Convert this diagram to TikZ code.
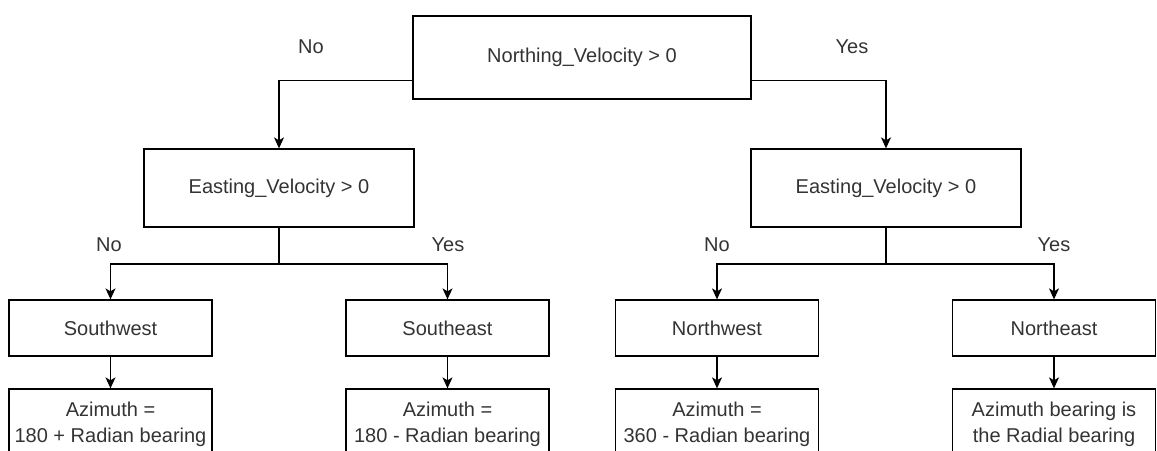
\documentclass[tikz,border=0pt]{standalone}
\usepackage{fontspec}
\setmainfont{Liberation Sans}
\usetikzlibrary{arrows.meta}
\begin{document}
\begin{tikzpicture}[x=1pt,y=-1pt,
  every node/.style={font=\fontsize{20}{26}\selectfont, text=black!80},
  box/.style={draw=black, line width=1.3pt, rectangle, inner sep=0pt, align=center},
  lbl/.style={inner sep=0pt},
  arr/.style={draw=black, line width=1.3pt, -{Stealth[length=11pt,width=10pt,inset=3pt]}},
  ln/.style={draw=black, line width=1.3pt}]
\useasboundingbox (0,0) rectangle (1157,450);
% nodes
\node[box, minimum width=338pt, minimum height=83pt] (top) at (582,57.5) {Northing\_Velocity > 0};
\node[box, minimum width=270pt, minimum height=78pt] (eL) at (279,188) {Easting\_Velocity > 0};
\node[box, minimum width=270pt, minimum height=78pt] (eR) at (886,188) {Easting\_Velocity > 0};
\node[box, minimum width=203pt, minimum height=56pt] (sw) at (110.5,328) {Southwest};
\node[box, minimum width=203pt, minimum height=56pt] (se) at (447.5,328) {Southeast};
\node[box, minimum width=203pt, minimum height=56pt] (nw) at (717,328) {Northwest};
\node[box, minimum width=203pt, minimum height=56pt] (ne) at (1054,328) {Northeast};
\node[box, minimum width=203pt, minimum height=70pt] (asw) at (110.5,424) {Azimuth =\\180 + Radian bearing};
\node[box, minimum width=203pt, minimum height=70pt] (ase) at (447.5,424) {Azimuth =\\180 - Radian bearing};
\node[box, minimum width=203pt, minimum height=70pt] (anw) at (717,424) {Azimuth =\\360 - Radian bearing};
\node[box, minimum width=203pt, minimum height=70pt] (ane) at (1054,424) {Azimuth bearing is\\the Radial bearing};
% labels
\node[lbl] (lNo0) at (311,47) {No};
\node[lbl] (lYes0) at (852,47) {Yes};
\node[lbl] (lNo1) at (109,245) {No};
\node[lbl] (lYes1) at (448,245) {Yes};
\node[lbl] (lNo2) at (717,245) {No};
\node[lbl] (lYes2) at (1054,245) {Yes};
% connectors
\draw[arr] ([yshift=-23pt]top.west) -| (eL.north);
\draw[arr] ([yshift=-23pt]top.east) -| (eR.north);
\coordinate (jL) at (279,264);
\coordinate (jR) at (886,264);
\draw[ln] (eL.south) -- (jL);
\draw[arr] (jL) -| (sw.north);
\draw[arr] (jL) -| (se.north);
\draw[ln] (eR.south) -- (jR);
\draw[arr] (jR) -| (nw.north);
\draw[arr] (jR) -| (ne.north);
\draw[arr] (sw.south) -- (asw.north);
\draw[arr] (se.south) -- (ase.north);
\draw[arr] (nw.south) -- (anw.north);
\draw[arr] (ne.south) -- (ane.north);
\end{tikzpicture}
\end{document}
